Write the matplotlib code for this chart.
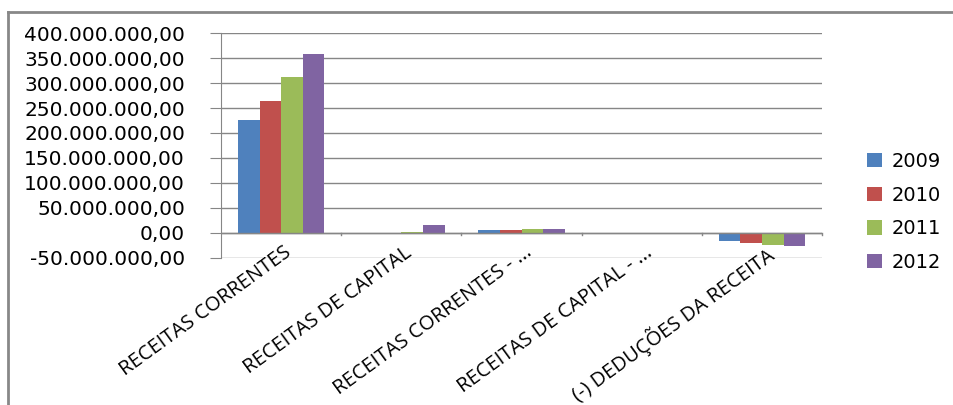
import matplotlib.pyplot as plt
import numpy as np
from matplotlib.lines import Line2D
from matplotlib.ticker import FuncFormatter

categories = ["RECEITAS CORRENTES", "RECEITAS DE CAPITAL", "RECEITAS CORRENTES - ...",
              "RECEITAS DE CAPITAL - ...", "(-) DEDUÇÕES DA RECEITA"]
years = ["2009", "2010", "2011", "2012"]
values = {
    "2009": [225e6, 0.0, 6e6, 0.0, -17e6],
    "2010": [265e6, 0.0, 6e6, 0.0, -21e6],
    "2011": [313e6, 1e6, 8e6, 0.0, -25e6],
    "2012": [358e6, 16e6, 8e6, 0.0, -27e6],
}
colors = ["#4F81BD", "#C0504D", "#9BBB59", "#8064A2"]

fig = plt.figure(figsize=(9.54, 4.05), dpi=100)
ax = fig.add_axes([0.2317, 0.363, 0.630, 0.5555])

x = np.arange(len(categories))
w = 0.18
for i, yr in enumerate(years):
    ax.bar(x + (i - 1.5) * w, values[yr], w, color=colors[i], label=yr, zorder=3)

ax.set_xlim(-0.5, len(categories) - 0.5)
ax.set_ylim(-50e6, 400e6)
ax.set_yticks(np.arange(-50e6, 400e6 + 1, 50e6))


def fmt(v, pos):
    s = "{:,.2f}".format(abs(v)).replace(",", "X").replace(".", ",").replace("X", ".")
    return ("-" if v < 0 else "") + s


ax.yaxis.set_major_formatter(FuncFormatter(fmt))
ax.grid(axis="y", color="#868686", lw=1, zorder=0)
for s in ["top", "right", "bottom"]:
    ax.spines[s].set_visible(False)
ax.spines["left"].set_color("#868686")
ax.axhline(0, color="#868686", lw=1, zorder=4)
ax.tick_params(axis="y", length=8, color="#868686", labelsize=14.5, pad=18)
ax.tick_params(axis="x", length=0)
ax.set_xticks(x)
ax.set_xticklabels([])

# category boundary tick marks along the zero line
for b in np.arange(0.5, len(categories), 1.0):
    ax.plot([b, b], [0, -5e6], color="#868686", lw=1, clip_on=False, zorder=4)

# rotated category labels
for xi, lab in zip(x, categories):
    ax.text(xi + 0.02, -19e6, lab, rotation=36, ha="right", va="top",
            rotation_mode="anchor", fontsize=14.5, family="Open Sans", zorder=5)

fig.legend(*ax.get_legend_handles_labels(), loc="center left",
           bbox_to_anchor=(867 / 954, 1 - 212 / 405), frameon=False,
           fontsize=14, handlelength=0.75, handleheight=0.75, labelspacing=0.75,
           handletextpad=0.5, borderpad=0, borderaxespad=0)

# outer chart border (top and left)
fig.add_artist(Line2D([8 / 954, 1.0], [1 - 12 / 405, 1 - 12 / 405], color="#888888", lw=2))
fig.add_artist(Line2D([8 / 954, 8 / 954], [0, 1 - 12 / 405], color="#888888", lw=2))

fig.savefig("out.png", dpi=100)
